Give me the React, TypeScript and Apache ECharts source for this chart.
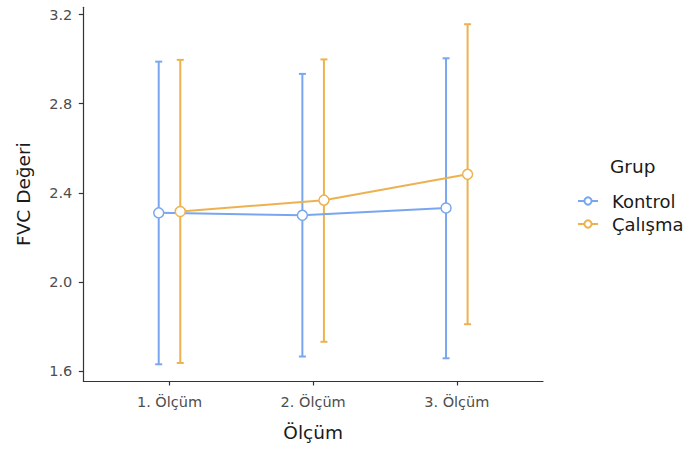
import React, { useEffect, useRef } from "react";
import * as echarts from "echarts";

const categories = ["1. Ölçüm", "2. Ölçüm", "3. Ölçüm"];
const groups = ["Kontrol", "Çalışma"];
const kontrolMean = [2.31, 2.299, 2.332];
const kontrolUpper = [2.989, 2.934, 3.004];
const kontrolLower = [1.63, 1.665, 1.657];
const calismaMean = [2.316, 2.367, 2.483];
const calismaUpper = [2.997, 2.999, 3.157];
const calismaLower = [1.636, 1.731, 1.81];
const yTicks = [1.6, 2.0, 2.4, 2.8, 3.2];
const dodge = 0.075;

const colors = ["#79A7EF", "#EDB24F"];
const FONT = "DejaVu Sans";

export default function App() {
  const ref = useRef<HTMLDivElement>(null);
  useEffect(() => {
    if (!ref.current) return;
    const chart = echarts.init(ref.current, undefined, { renderer: "svg" });
    const sets = [
      { name: groups[0], mean: kontrolMean, up: kontrolUpper, lo: kontrolLower, off: -dodge },
      { name: groups[1], mean: calismaMean, up: calismaUpper, lo: calismaLower, off: dodge },
    ];
    const series: any[] = [];
    sets.forEach((s, gi) => {
      series.push({
        type: "custom",
        name: s.name + "_err",
        data: s.mean.map((_, i) => [i + 1 + s.off, s.lo[i], s.up[i]]),
        encode: { x: 0, y: [1, 2] },
        z: 1,
        silent: true,
        renderItem: (params: any, api: any) => {
          const x = api.value(0);
          const lo = api.coord([x, api.value(1)]);
          const hi = api.coord([x, api.value(2)]);
          const w = 3.5;
          const style = { stroke: colors[gi], lineWidth: 2 };
          return {
            type: "group",
            children: [
              { type: "line", shape: { x1: lo[0], y1: lo[1], x2: hi[0], y2: hi[1] }, style },
              { type: "line", shape: { x1: hi[0] - w, y1: hi[1], x2: hi[0] + w, y2: hi[1] }, style },
              { type: "line", shape: { x1: lo[0] - w, y1: lo[1], x2: lo[0] + w, y2: lo[1] }, style },
            ],
          };
        },
      });
    });
    sets.forEach((s, gi) => {
      series.push({
        type: "line",
        name: s.name,
        data: s.mean.map((m, i) => [i + 1 + s.off, m]),
        z: 3,
        symbol: "circle",
        symbolSize: 10,
        showSymbol: true,
        lineStyle: { color: colors[gi], width: 2 },
        itemStyle: { color: "#ffffff", borderColor: colors[gi], borderWidth: 1.5 },
      });
    });

    chart.setOption({
      animation: false,
      backgroundColor: "#ffffff",
      grid: { left: 83.3, right: 152, top: 7.3, bottom: 74, containLabel: false },
      xAxis: {
        type: "value",
        min: 0.4,
        max: 3.6,
        name: "Ölçüm",
        nameLocation: "middle",
        nameGap: 42,
        nameTextStyle: { fontFamily: FONT, fontSize: 18.5, color: "#1a1a1a" },
        axisLine: { show: true, onZero: false, lineStyle: { color: "#333333", width: 1.2 } },
        axisTick: { show: true, length: 4.5, customValues: [1, 2, 3], lineStyle: { color: "#333333", width: 1.2 } },
        axisLabel: {
          customValues: [1, 2, 3],
          formatter: (v: number) => categories[Math.round(v) - 1],
          fontFamily: FONT,
          fontSize: 14.5,
          color: "#4d4d4d",
          margin: 13,
        },
        splitLine: { show: false },
      },
      yAxis: {
        type: "value",
        min: 1.555,
        max: 3.233,
        name: "FVC Değeri",
        nameLocation: "middle",
        nameGap: 50,
        nameTextStyle: { fontFamily: FONT, fontSize: 18.5, color: "#1a1a1a" },
        axisLine: { show: true, onZero: false, lineStyle: { color: "#333333", width: 1.2 } },
        axisTick: { show: true, length: 4.5, customValues: yTicks, lineStyle: { color: "#333333", width: 1.2 } },
        axisLabel: {
          customValues: yTicks,
          formatter: (v: number) => v.toFixed(1),
          fontFamily: FONT,
          fontSize: 14.5,
          color: "#4d4d4d",
          margin: 11,
        },
        splitLine: { show: false },
      },
      legend: {
        data: groups,
        orient: "vertical",
        left: 572,
        top: 187,
        itemWidth: 20,
        itemHeight: 9,
        itemGap: 5,
        textStyle: { fontFamily: FONT, fontSize: 18, color: "#1a1a1a", lineHeight: 18, padding: [0, 0, 0, 9] },
      },
      graphic: [
        {
          type: "text",
          left: 610,
          top: 157,
          style: { text: "Grup", fontFamily: FONT, fontSize: 18.5, fill: "#1a1a1a" },
        },
      ],
      series,
    });
    return () => chart.dispose();
  }, []);
  return <div ref={ref} style={{ position: "fixed", left: 0, top: 0, width: 695, height: 455 }} />;
}
